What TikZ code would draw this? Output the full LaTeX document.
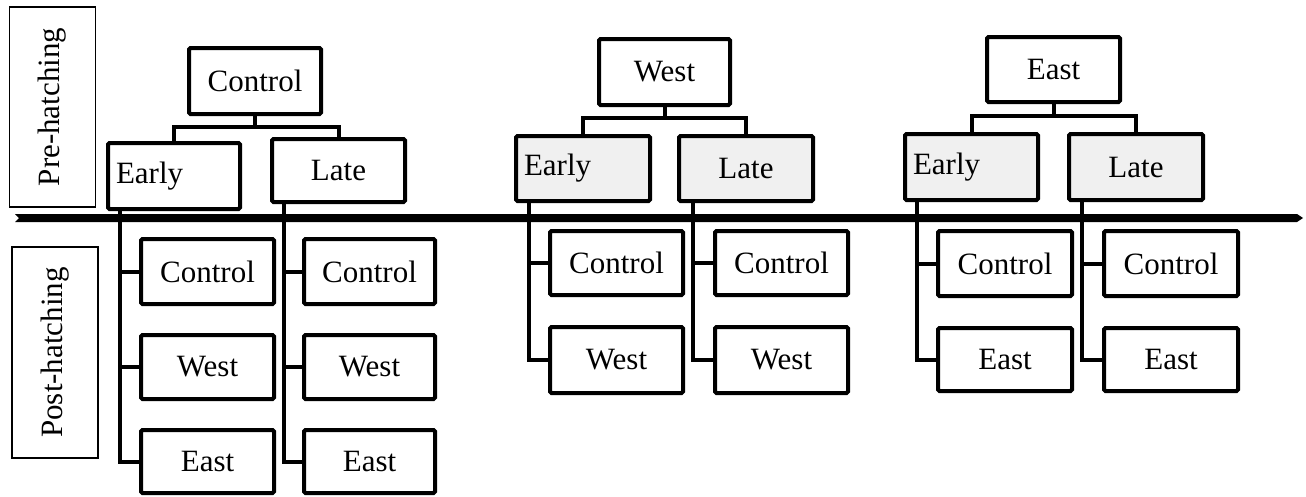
\documentclass[tikz,border=0pt]{standalone}
\usepackage{fontspec}
\setmainfont{Liberation Serif}
\usetikzlibrary{calc}
\begin{document}
\begin{tikzpicture}[x=1pt,y=-1pt,
  every node/.style={font=\fontsize{31}{36}\selectfont},
  box/.style={draw, line width=4pt, rounded corners=1.5pt, fill=white, inner sep=0pt, align=center},
  stagebox/.style={box, fill=black!6},
  sidebox/.style={draw, line width=1.3pt, inner sep=0pt, minimum width=86, rotate=90},
  link/.style={line width=4pt},
  axis/.style={fill=black}]
\useasboundingbox (0,0) rectangle (1306,496);

% stage labels on the left
\node[sidebox, minimum width=200, minimum height=86] (pre) at (52.5,107) {Pre-hatching};
\node[sidebox, minimum width=211, minimum height=86] (post) at (55,352.5) {Post-hatching};

% hatching time line
\coordinate (tl) at (15,218);
\coordinate (tr) at (1303,218);
\fill[axis] (15,214) -- (1297,214) -- (tr) -- (1297,222) -- (15,222) -- (19,218) -- cycle;

% ---------- Control group ----------
\node[box, minimum width=132, minimum height=66] (c0) at (255,81) {Control};
\node[box, text width=116, inner xsep=8pt, align=left, minimum height=66] (c1) at (174,176) {Early};
\node[box, minimum width=133, minimum height=63] (c2) at (338.5,170.5) {Late};
\node[box, minimum width=133, minimum height=65] (c1a) at (207.5,271.5) {Control};
\node[box, minimum width=133, minimum height=64] (c1b) at (207.5,367) {West};
\node[box, minimum width=133, minimum height=63] (c1c) at (207.5,461.5) {East};
\node[box, minimum width=131, minimum height=65] (c2a) at (369.5,271.5) {Control};
\node[box, minimum width=131, minimum height=64] (c2b) at (369.5,367) {West};
\node[box, minimum width=131, minimum height=63] (c2c) at (369.5,461.5) {East};
\draw[link] (c0.south) -- ++(0,11) coordinate (cj) -| (c1.north);
\draw[link] (cj) -| (c2.north);
\draw[link] ([xshift=14pt]c1.south west) |- (c1a.west);
\draw[link] ([xshift=14pt]c1.south west) |- (c1b.west);
\draw[link] ([xshift=14pt]c1.south west) |- (c1c.west);
\draw[link] ([xshift=14pt]c2.south west) |- (c2a.west);
\draw[link] ([xshift=14pt]c2.south west) |- (c2b.west);
\draw[link] ([xshift=14pt]c2.south west) |- (c2c.west);

% ---------- West group ----------
\node[box, minimum width=131, minimum height=66] (w0) at (664.5,72) {West};
\node[stagebox, text width=118, inner xsep=8pt, align=left, minimum height=65] (w1) at (583,168.5) {Early};
\node[stagebox, minimum width=134, minimum height=65] (w2) at (746,168.5) {Late};
\node[box, minimum width=133, minimum height=64] (w1a) at (616.5,263) {Control};
\node[box, minimum width=133, minimum height=66] (w1b) at (616.5,360) {West};
\node[box, minimum width=133, minimum height=64] (w2a) at (781.5,263) {Control};
\node[box, minimum width=133, minimum height=66] (w2b) at (781.5,360) {West};
\draw[link] (w0.south) -- ++(0,11) coordinate (wj) -| (w1.north);
\draw[link] (wj) -| (w2.north);
\draw[link] ([xshift=15pt]w1.south west) |- (w1a.west);
\draw[link] ([xshift=15pt]w1.south west) |- (w1b.west);
\draw[link] ([xshift=16pt]w2.south west) |- (w2a.west);
\draw[link] ([xshift=16pt]w2.south west) |- (w2b.west);

% ---------- East group ----------
\node[box, minimum width=133, minimum height=65] (e0) at (1053.5,69.5) {East};
\node[stagebox, text width=117, inner xsep=8pt, align=left, minimum height=66] (e1) at (971.5,167) {Early};
\node[stagebox, minimum width=134, minimum height=66] (e2) at (1136,167) {Late};
\node[box, minimum width=134, minimum height=65] (e1a) at (1005,263.5) {Control};
\node[box, minimum width=134, minimum height=63] (e1b) at (1005,359.5) {East};
\node[box, minimum width=134, minimum height=65] (e2a) at (1171,263.5) {Control};
\node[box, minimum width=134, minimum height=63] (e2b) at (1171,359.5) {East};
\draw[link] (e0.south) -- ++(0,12) coordinate (ej) -| (e1.north);
\draw[link] (ej) -| (e2.north);
\draw[link] ([xshift=14pt]e1.south west) |- (e1a.west);
\draw[link] ([xshift=14pt]e1.south west) |- (e1b.west);
\draw[link] ([xshift=15pt]e2.south west) |- (e2a.west);
\draw[link] ([xshift=15pt]e2.south west) |- (e2b.west);
\end{tikzpicture}
\end{document}
